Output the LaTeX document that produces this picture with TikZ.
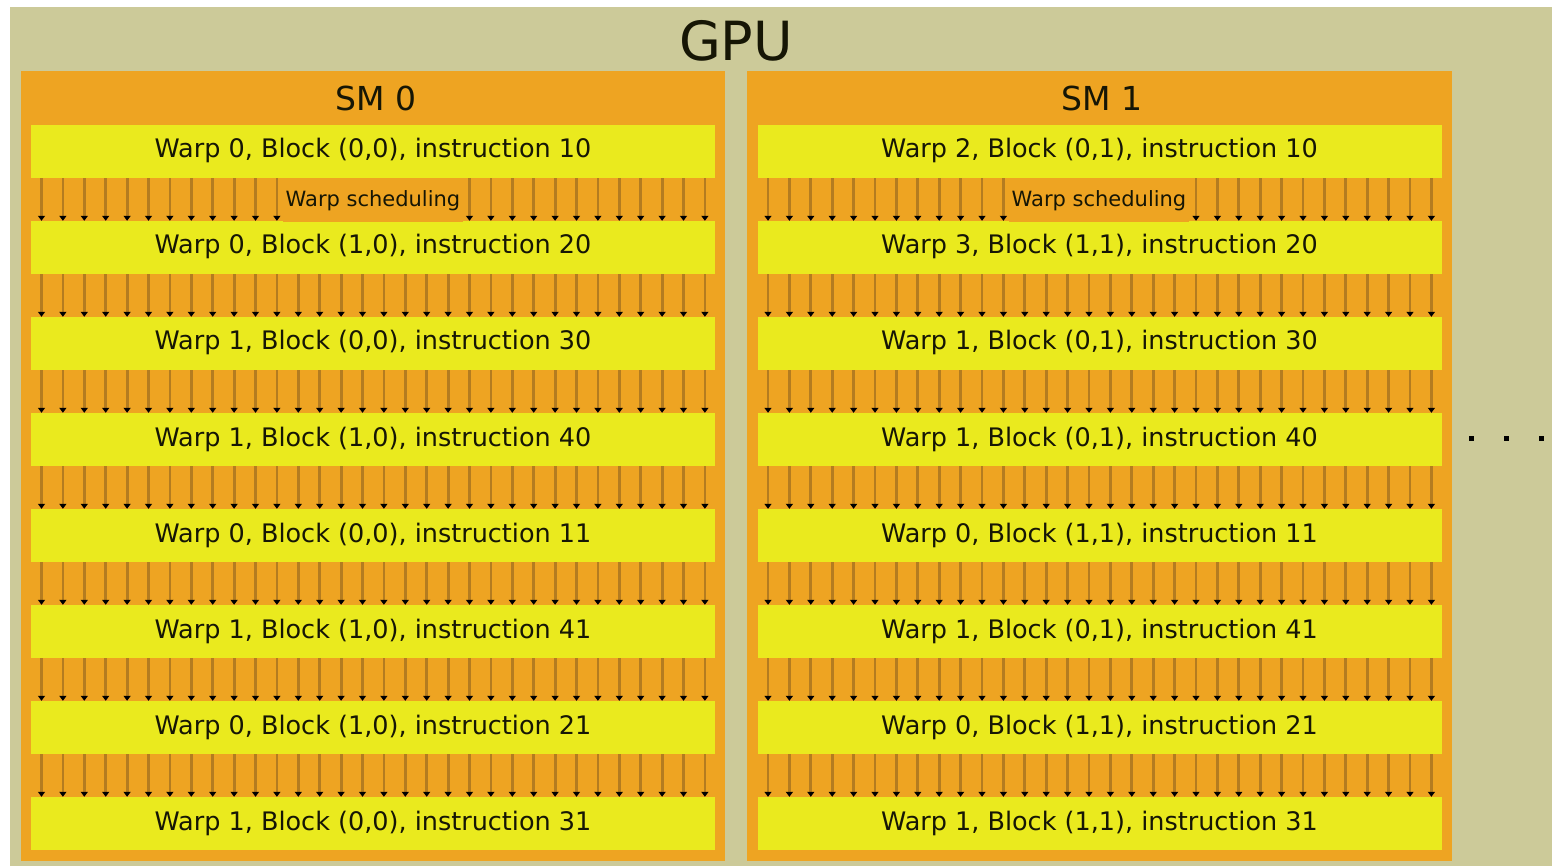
\documentclass[tikz,border=0pt]{standalone}
\usepackage{fontspec}
\setmainfont{DejaVu Sans}
\usetikzlibrary{arrows.meta,calc}
\definecolor{gpubg}{RGB}{204,202,153}
\definecolor{smorange}{RGB}{238,164,34}
\definecolor{rowyellow}{RGB}{234,234,30}
\definecolor{shaft}{RGB}{180,124,32}
\definecolor{ink}{RGB}{22,22,5}
\begin{document}
\begin{tikzpicture}[x=1pt,y=-1pt,
  smbox/.style={fill=smorange,draw=none},
  rowbox/.style={fill=rowyellow,draw=none,minimum width=684pt,minimum height=53pt,inner sep=0pt,
    text height=19.4pt,text depth=6.4pt,text=ink,font=\fontsize{25.5}{30}\selectfont},
  smtitle/.style={anchor=base,text=ink,font=\fontsize{33}{40}\selectfont,inner sep=0pt},
  gputitle/.style={anchor=base,text=ink,font=\fontsize{54}{64}\selectfont,inner sep=0pt},
  schedlabel/.style={fill=smorange,text=ink,font=\fontsize{21}{25}\selectfont,inner xsep=3pt,inner ysep=0pt,
    text height=17pt,text depth=3pt,minimum height=44pt},
  schedarrow/.style={color=shaft,line width=2.8pt,-{Triangle[width=7pt,length=5pt,color=black,fill=black]}},
  dotmark/.style={fill=black}]
\useasboundingbox (0,0) rectangle (1552,866);
\fill[white] (0,0) rectangle (1552,866);
\fill[gpubg] (10,7) rectangle (1552,866);
\node[gputitle] (gpu) at (736,61) {GPU};
% SM boxes
\fill[smbox] (21,71) rectangle (725,861);
\fill[smbox] (747,71) rectangle (1452,861);
\node[smtitle] (sm0) at (376,111) {SM 0};
\node[smtitle] (sm1) at (1102,111) {SM 1};
% rows of SM 0
\foreach \t [count=\k from 0] in {
  {Warp 0, Block (0,0), instruction 10},
  {Warp 0, Block (1,0), instruction 20},
  {Warp 1, Block (0,0), instruction 30},
  {Warp 1, Block (1,0), instruction 40},
  {Warp 0, Block (0,0), instruction 11},
  {Warp 1, Block (1,0), instruction 41},
  {Warp 0, Block (1,0), instruction 21},
  {Warp 1, Block (0,0), instruction 31}}
  \node[rowbox] (a\k) at (373,151.5+96*\k) {\t};
% rows of SM 1
\foreach \t [count=\k from 0] in {
  {Warp 2, Block (0,1), instruction 10},
  {Warp 3, Block (1,1), instruction 20},
  {Warp 1, Block (0,1), instruction 30},
  {Warp 1, Block (0,1), instruction 40},
  {Warp 0, Block (1,1), instruction 11},
  {Warp 1, Block (0,1), instruction 41},
  {Warp 0, Block (1,1), instruction 21},
  {Warp 1, Block (1,1), instruction 31}}
  \node[rowbox] (b\k) at (1099.5,151.5+96*\k) {\t};
% scheduling arrows
\foreach \k [evaluate=\k as \n using int(\k+1)] in {0,...,6}{
  \foreach \i in {0,...,31}{
    \draw[schedarrow] ($(a\k.south west)+(10.7+21.4*\i,0)$) -- ($(a\n.north west)+(10.7+21.4*\i,0)$);
    \draw[schedarrow] ($(b\k.south west)+(10.7+21.4*\i,0)$) -- ($(b\n.north west)+(10.7+21.4*\i,0)$);
  }
}
\node[schedlabel] (ls0) at (373,200) {Warp scheduling};
\node[schedlabel] (ls1) at (1099,200) {Warp scheduling};
% continuation dots
\foreach \x in {1471,1506,1541}
  \fill[dotmark] (\x-2.5,435.5) rectangle (\x+2.5,440.5);
\end{tikzpicture}
\end{document}
